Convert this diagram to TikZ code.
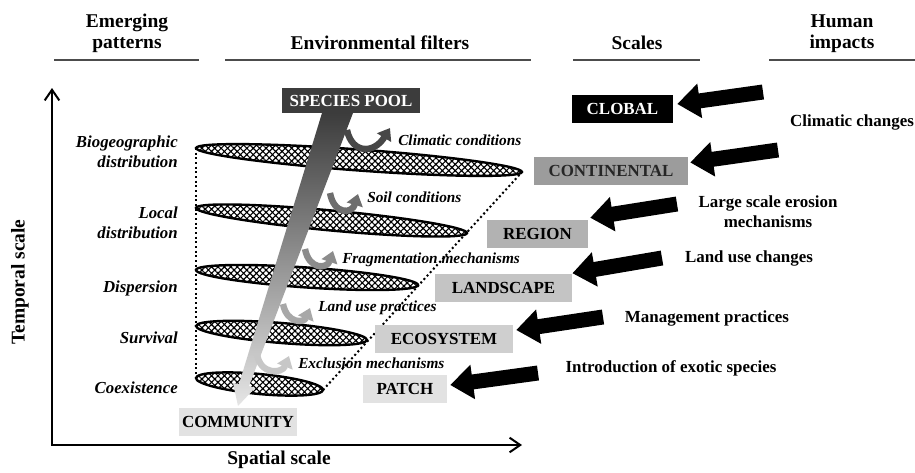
\documentclass[tikz,border=0pt]{standalone}
\usepackage{fontspec}
\setmainfont{Liberation Serif}
\usetikzlibrary{arrows.meta, patterns.meta, positioning, calc}
\definecolor{poolgray}{HTML}{3C3C3C}
\definecolor{contgray}{HTML}{9C9C9C}
\definecolor{regiongray}{HTML}{B2B2B2}
\definecolor{landgray}{HTML}{C4C4C4}
\definecolor{ecogray}{HTML}{CFCFCF}
\definecolor{patchgray}{HTML}{E2E2E2}

\begin{document}
\begin{tikzpicture}[x=0.75pt, y=-0.75pt,
    head/.style={font=\fontsize{14.6}{15.8}\selectfont\bfseries, align=center, inner sep=0pt},
    headline/.style={line width=0.9pt, draw=black!70},
    scalebox/.style={font=\fontsize{12.7}{14}\selectfont\bfseries, minimum height=21pt, inner sep=0pt},
    filter/.style={font=\fontsize{11.5}{13}\selectfont\bfseries\itshape, anchor=west, inner sep=0pt},
    emerge/.style={font=\fontsize{12.6}{15}\selectfont\bfseries\itshape, align=right, anchor=east, inner sep=0pt},
    impacttext/.style={font=\fontsize{12.7}{15}\selectfont\bfseries, align=center, inner sep=0pt},
    impact/.style={line width=11.25pt, -{Triangle[length=17pt, width=25pt]}},
    disc/.style={draw, line width=1.8pt, preaction={fill=white}, pattern={Hatch[angle=45, distance=3.4pt, line width=0.85pt]}},
    hook/.style={line width=4.8pt, -{Triangle[length=8.5pt, width=12pt]}},
    axis/.style={line width=1.5pt, {Straight Barb[length=8pt, width=11pt]}-{Straight Barb[length=8pt, width=11pt]}}
  ]
  \useasboundingbox (0,0) rectangle (915,472);

  % Column titles
  \node[head, anchor=south] (emerging) at (127,53) {Emerging\\patterns};
  \node[head, anchor=base] (filters) at (380,49) {Environmental filters};
  \node[head, anchor=base] (scales) at (637,49) {Scales};
  \node[head, anchor=south] (human) at (842,53) {Human\\impacts};
  \draw[headline] (54,60) -- (199,60);
  \draw[headline] (225,60) -- (531,60);
  \draw[headline] (573,60) -- (700,60);
  \draw[headline] (769,60) -- (915,60);

  % Axes
  \draw[axis] (52,88) -- (52,445) -- (522,445);
  \node[head, rotate=90] (temporal) at (20,282) {Temporal scale};
  \node[head] (spatial) at (279,460) {Spatial scale};

  % Emerging patterns
  \node[emerge] (biogeo) at (178,152) {Biogeographic\\distribution};
  \node[emerge] (local) at (178,223) {Local\\distribution};
  \node[emerge] (dispersion) at (178,288) {Dispersion};
  \node[emerge] (survival) at (178,338) {Survival};
  \node[emerge] (coexist) at (178,388) {Coexistence};

  % Dotted cone outline
  \draw[dotted, line width=1.5pt] (196,148) -- (196,378);
  \draw[dotted, line width=1.5pt] (323,390) -- (522,172);

  % Filter discs (top to bottom)
  \draw[disc, shift={(359,160)}, rotate=-4.2] (0,0) ellipse [x radius=163.4, y radius=10.5];
  \draw[disc, shift={(331.5,220.5)}, rotate=-5.3] (0,0) ellipse [x radius=136.1, y radius=10];
  \draw[disc, shift={(307,277.5)}, rotate=-3.9] (0,0) ellipse [x radius=111.3, y radius=10];
  \draw[disc, shift={(281.5,333)}, rotate=-4.7] (0,0) ellipse [x radius=85.8, y radius=10];
  \draw[disc, shift={(259.5,384)}, rotate=-5.4] (0,0) ellipse [x radius=63.8, y radius=10];

  % Species flow band
  \shade[top color=poolgray, bottom color=black!10]
    (322,113) -- (353,113) -- (249,386) -- (255,388) -- (238,406) -- (233,383) -- (239,384) -- cycle;

  % Species lost at each filter
  \draw[hook, black!72] (347,130) .. controls (352,154) and (374,154) .. (390,128);
  \draw[hook, black!57] (330,193) .. controls (334,215) and (352,214) .. (358,194);
  \draw[hook, black!45] (305,249) .. controls (309,270) and (327,269) .. (333,251);
  \draw[hook, black!34] (283,304) .. controls (287,324) and (304,323) .. (310,308);
  \draw[hook, black!22] (257,354) .. controls (260,375) and (282,374) .. (289,356);

  % Filter labels
  \node[filter] (climatic) at (398,140) {Climatic conditions};
  \node[filter] (soil) at (367,197) {Soil conditions};
  \node[filter] (fragment) at (342,260) {Fragmentation mechanisms};
  \node[filter] (landuse) at (318,308) {Land use practices};
  \node[filter] (exclusion) at (298,363) {Exclusion mechanisms};

  % Pool and community
  \node[scalebox, fill=poolgray, text=white, minimum width=103.5pt, minimum height=19pt] (pool) at (351,100.5) {SPECIES POOL};
  \node[scalebox, fill=patchgray, minimum width=89pt] (community) at (238,421.5) {COMMUNITY};

  % Scales
  \node[scalebox, fill=black, text=white, minimum width=75.75pt] (global) at (622.5,109) {CLOBAL};
  \node[scalebox, fill=contgray, text=black!85, minimum width=115.5pt] (continental) at (611,171) {CONTINENTAL};
  \node[scalebox, fill=regiongray, minimum width=75.75pt] (region) at (537.5,234) {REGION};
  \node[scalebox, fill=landgray, minimum width=103pt] (landscape) at (503.5,287.5) {LANDSCAPE};
  \node[scalebox, fill=ecogray, minimum width=103.5pt] (ecosystem) at (444,339) {ECOSYSTEM};
  \node[scalebox, fill=patchgray, minimum width=63pt] (patch) at (405,389) {PATCH};

  % Human impacts
  \coordinate (impglobal) at (763,92);
  \coordinate (impcont) at (778,150);
  \coordinate (impregion) at (677,204);
  \coordinate (impland) at (662,258);
  \coordinate (impeco) at (603,317);
  \coordinate (imppatch) at (538,373);
  \draw[impact] (impglobal) -- ([xshift=3pt, yshift=3.75pt]global.east);
  \draw[impact] (impcont) -- ([xshift=1.5pt, yshift=6.4pt]continental.east);
  \draw[impact] (impregion) -- ([xshift=1.5pt, yshift=1.5pt]region.north east);
  \draw[impact] (impland) -- (landscape.north east);
  \draw[impact] (impeco) -- ([xshift=2.25pt, yshift=6.75pt]ecosystem.east);
  \draw[impact] (imppatch) -- ([xshift=2.25pt, yshift=3pt]patch.east);

  \node[impacttext] (climchange) at (852,122) {Climatic changes};
  \node[impacttext] (erosion) at (768,212) {Large scale erosion\\mechanisms};
  \node[impacttext] (luchange) at (749,258) {Land use changes};
  \node[impacttext] (manage) at (707,318) {Management practices};
  \node[impacttext] (exotic) at (671,368) {Introduction of exotic species};
\end{tikzpicture}
\end{document}
